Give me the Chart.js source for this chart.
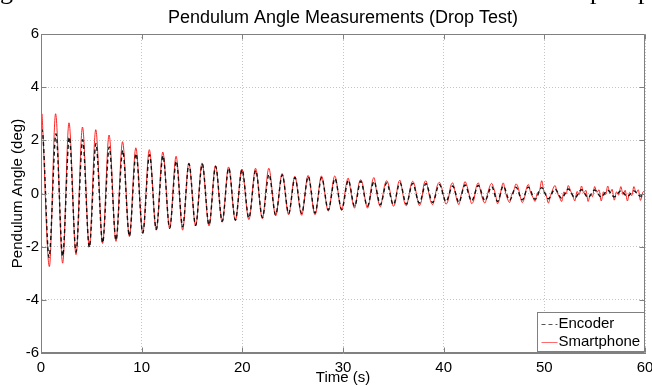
<!DOCTYPE html>
<html>
<head>
<meta charset="utf-8">
<script src="https://cdn.jsdelivr.net/npm/chart.js@4"></script>
<style>
  html, body { margin: 0; padding: 0; background: #fff; }
  #wrap { width: 652px; height: 385px; }
</style>
</head>
<body>
<div id="wrap"><canvas id="pendulumChart" width="652" height="385"></canvas></div>
<script>
// values (time in s, angle in deg)
const xTickValues = [0, 10, 20, 30, 40, 50, 60];
const yTickValues = [-6, -4, -2, 0, 2, 4, 6];
const seriesNames = ['Encoder', 'Smartphone'];
const chartTitle = 'Pendulum Angle Measurements (Drop Test)';

// encoder: start point, then alternating peaks / troughs
const encoderTime = [
  0.00, 0.10, 0.80, 1.49, 2.15, 2.81, 3.48, 4.14, 4.80, 5.46,
  6.12, 6.78, 7.45, 8.12, 8.78, 9.44, 10.11, 10.78, 11.45, 12.12,
  12.78, 13.44, 14.07, 14.70, 15.36, 16.02, 16.69, 17.35, 18.00, 18.65,
  19.31, 19.97, 20.65, 21.33, 21.99, 22.65, 23.31, 23.97, 24.60, 25.23,
  25.89, 26.55, 27.22, 27.88, 28.54, 29.20, 29.87, 30.53, 31.15, 31.76,
  32.42, 33.08, 33.71, 34.34, 35.00, 35.66, 36.29, 36.92, 37.58, 38.24,
  38.90, 39.57, 40.23, 40.90, 41.51, 42.12, 42.78, 43.44, 44.10, 44.77,
  45.35, 45.92, 46.55, 47.18, 47.80, 48.41, 49.08, 49.74, 50.40, 51.06,
  51.72, 52.38, 53.03, 53.69, 54.35, 55.00, 55.65, 56.30, 56.95, 57.60,
  58.25, 58.90, 59.55, 60.00
];
const encoderAngle = [
  2.36, 2.40, -2.40, 2.25, -2.35, 2.12, -2.20, 2.02, -2.02, 1.88,
  -1.85, 1.75, -1.75, 1.62, -1.60, 1.50, -1.48, 1.46, -1.35, 1.42,
  -1.30, 1.22, -1.25, 1.12, -1.20, 1.11, -1.18, 1.02, -1.05, 0.96,
  -1.00, 0.90, -0.92, 0.87, -0.90, 0.72, -0.80, 0.70, -0.75, 0.60,
  -0.75, 0.64, -0.74, 0.60, -0.62, 0.56, -0.60, 0.50, -0.48, 0.46,
  -0.48, 0.45, -0.42, 0.40, -0.42, 0.40, -0.40, 0.38, -0.36, 0.37,
  -0.34, 0.34, -0.30, 0.28, -0.33, 0.32, -0.28, 0.30, -0.27, 0.26,
  -0.30, 0.28, -0.26, 0.24, -0.24, 0.24, -0.22, 0.22, -0.20, 0.17,
  -0.18, 0.17, -0.16, 0.14, -0.15, 0.13, -0.13, 0.12, -0.12, 0.10,
  -0.11, 0.10, -0.10, 0.00
];

// smartphone: bigger swings early, noisy after ~30 s
const phoneTime = [
  0.00, 0.10, 0.16, 0.83, 1.45, 2.15, 2.78, 3.48, 4.12, 4.80,
  5.44, 6.12, 6.76, 7.45, 8.10, 8.78, 9.42, 10.11, 10.76, 11.45,
  12.10, 12.78, 13.42, 14.07, 14.68, 15.36, 16.00, 16.69, 17.33, 18.00,
  18.63, 19.31, 19.95, 20.65, 21.31, 21.99, 22.63, 23.31, 23.95, 24.60,
  25.21, 25.89, 26.53, 27.22, 27.86, 28.54, 29.18, 29.87,
  30.08, 30.30, 30.51, 30.72, 30.94, 31.15, 31.35, 31.56, 31.76,
  31.98, 32.20, 32.42, 32.64, 32.86, 33.08, 33.29, 33.50, 33.71,
  33.92, 34.13, 34.34, 34.56, 34.78, 35.00, 35.22, 35.44, 35.66,
  35.87, 36.08, 36.29, 36.50, 36.71, 36.92, 37.14, 37.36, 37.58,
  37.80, 38.02, 38.24, 38.46, 38.68, 38.90, 39.12, 39.35, 39.57,
  39.79, 40.01, 40.23, 40.45, 40.68, 40.90, 41.10, 41.31, 41.51,
  41.71, 41.92, 42.12, 42.34, 42.56, 42.78, 43.00, 43.22, 43.44,
  43.66, 43.88, 44.10, 44.32, 44.55, 44.77, 44.96, 45.16, 45.35,
  45.54, 45.73, 45.92, 46.13, 46.34, 46.55, 46.76, 46.97, 47.18,
  47.39, 47.60, 47.80, 48.00, 48.20, 48.41, 48.63, 48.86, 49.08,
  49.30, 49.52, 49.74, 49.96, 50.18, 50.40, 50.62, 50.84, 51.06,
  51.28, 51.50, 51.72, 51.94, 52.16, 52.38, 52.60, 52.81, 53.03,
  53.25, 53.47, 53.69, 53.91, 54.13, 54.35, 54.57, 54.78, 55.00,
  55.22, 55.43, 55.65, 55.87, 56.08, 56.30, 56.52, 56.73, 56.95,
  57.17, 57.38, 57.60, 57.82, 58.03, 58.25, 58.47, 58.68, 58.90,
  59.12, 59.33, 59.55, 59.78, 60.00
];
const phoneAngle = [
  3.00, 3.00, 2.55, -2.75, 3.00, -2.62, 2.66, -2.30, 2.50, -2.00,
  2.40, -1.88, 2.20, -1.80, 1.95, -1.62, 1.72, -1.50, 1.65, -1.38,
  1.56, -1.32, 1.40, -1.38, 1.15, -1.22, 1.15, -1.22, 1.05, -1.08,
  1.00, -1.02, 0.92, -0.98, 0.95, -0.95, 0.95, -0.84, 0.75, -0.80,
  0.65, -0.82, 0.68, -0.80, 0.66, -0.66, 0.66, -0.64,
  -0.28, 0.30, 0.58, 0.22, -0.30, -0.55, -0.20, 0.34, 0.52,
  0.30, -0.22, -0.55, -0.30, 0.36, 0.60, 0.18, -0.28, -0.50,
  -0.16, 0.30, 0.48, 0.28, -0.14, -0.48, -0.30, 0.30, 0.50,
  0.16, -0.30, -0.46, -0.18, 0.26, 0.46, 0.28, -0.16, -0.45,
  -0.26, 0.32, 0.48, 0.14, -0.26, -0.42, -0.14, 0.28, 0.42,
  0.24, -0.12, -0.40, -0.24, 0.26, 0.40, 0.12, -0.24, -0.42,
  -0.10, 0.20, 0.45, 0.26, -0.08, -0.38, -0.24, 0.22, 0.40,
  0.10, -0.22, -0.36, -0.08, 0.24, 0.38, 0.22, -0.06, -0.38,
  -0.22, 0.18, 0.40, 0.06, -0.20, -0.34, -0.04, 0.12, 0.36,
  0.24, -0.10, -0.34, -0.20, 0.16, 0.34, 0.04, -0.14, -0.30,
  0.02, 0.10, 0.48, 0.06, -0.06, -0.36, -0.08, 0.16, 0.30,
  0.04, -0.14, -0.30, 0.06, -0.02, 0.30, 0.10, -0.06, -0.28,
  0.08, -0.04, 0.28, 0.02, 0.12, -0.30, -0.02, -0.12, 0.26,
  0.04, 0.14, -0.28, 0.06, -0.04, 0.28, 0.00, 0.16, -0.25,
  0.06, -0.06, 0.26, -0.04, 0.12, -0.28, 0.04, -0.08, 0.26,
  0.02, 0.14, -0.26, 0.04, 0.10
];

function toPoints(times, angles) {
  return times.map((t, i) => ({ x: t, y: angles[i] }));
}

const FONT = "'Liberation Sans', Arial, sans-serif";
const AXIS_GRAY = '#808080';

// title centred over the axes, not the whole canvas
const titlePlugin = {
  id: 'axesTitle',
  afterDraw(chart) {
    const { ctx, chartArea: a } = chart;
    ctx.save();
    ctx.font = '18px ' + FONT;
    ctx.fillStyle = '#000';
    ctx.textAlign = 'center';
    ctx.textBaseline = 'middle';
    ctx.fillText(chartTitle, (a.left + a.right) / 2, 18);
    ctx.restore();
  }
};

// box on all four sides plus small inward ticks, like the matlab axes
const framePlugin = {
  id: 'frame',
  afterDatasetsDraw(chart) {
    const { ctx, chartArea: a, scales: { x, y } } = chart;
    const l = Math.round(a.left) + 0.5, r = Math.round(a.right) - 0.5;
    const t = Math.round(a.top) + 0.5, b = Math.round(a.bottom) - 0.5;
    ctx.save();
    ctx.strokeStyle = AXIS_GRAY;
    ctx.lineWidth = 1;
    ctx.beginPath();
    ctx.rect(l, t, r - l, b - t);
    xTickValues.forEach(v => {
      const px = Math.round(x.getPixelForValue(v)) + 0.5;
      ctx.moveTo(px, b); ctx.lineTo(px, b - 5);
      ctx.moveTo(px, t); ctx.lineTo(px, t + 5);
    });
    yTickValues.forEach(v => {
      const py = Math.round(y.getPixelForValue(v)) + 0.5;
      ctx.moveTo(l, py); ctx.lineTo(l + 5, py);
      ctx.moveTo(r, py); ctx.lineTo(r - 5, py);
    });
    ctx.stroke();
    ctx.restore();
  }
};

// legend box in the lower right corner of the axes
const legendPlugin = {
  id: 'cornerLegend',
  afterDraw(chart) {
    const { ctx, chartArea: a } = chart;
    const w = 107, h = 39;
    const right = Math.round(a.right) - 0.5, bottom = Math.round(a.bottom) - 1.5;
    const left = right - w, top = bottom - h;
    ctx.save();
    ctx.fillStyle = '#fff';
    ctx.fillRect(left, top, w, h);
    ctx.strokeStyle = AXIS_GRAY;
    ctx.lineWidth = 1;
    ctx.strokeRect(left, top, w, h);
    ctx.font = '15px ' + FONT;
    ctx.textBaseline = 'middle';
    ctx.fillStyle = '#000';
    chart.data.datasets.forEach((ds, i) => {
      const yy = top + 11 + i * 18;
      ctx.beginPath();
      ctx.strokeStyle = i === 0 ? '#555' : 'rgba(255,90,90,0.9)';
      ctx.lineWidth = 1;
      ctx.setLineDash(ds.borderDash || []);
      ctx.moveTo(left + 4, Math.round(yy) + 0.5);
      ctx.lineTo(left + 20, Math.round(yy) + 0.5);
      ctx.stroke();
      ctx.setLineDash([]);
      ctx.fillText(ds.label, left + 21, yy);
    });
    ctx.restore();
  }
};

// bottoms of the document text line that sits above the figure
const pageTextPlugin = {
  id: 'pageText',
  afterDraw(chart) {
    const ctx = chart.ctx;
    ctx.save();
    ctx.font = "26px 'Liberation Serif', serif";
    ctx.fillStyle = '#000';
    ctx.textBaseline = 'alphabetic';
    ctx.fillText('g', 0, -1);
    ctx.fillText('p', 590, -1);
    ctx.fillText('p', 638, -1);
    ctx.restore();
  }
};

new Chart(document.getElementById('pendulumChart'), {
  type: 'line',
  data: {
    datasets: [{
      label: seriesNames[0],
      data: toPoints(encoderTime, encoderAngle),
      borderColor: '#111',
      borderWidth: 1.4,
      borderDash: [4, 3],
      pointRadius: 0,
      cubicInterpolationMode: 'monotone',
      order: 0
    }, {
      label: seriesNames[1],
      data: toPoints(phoneTime, phoneAngle),
      borderColor: 'rgba(255,0,0,0.85)',
      borderWidth: 1,
      pointRadius: 0,
      cubicInterpolationMode: 'monotone',
      order: 1
    }]
  },
  options: {
    responsive: false,
    animation: false,
    layout: { padding: { left: 0, right: 7, top: 34, bottom: 0 } },
    plugins: {
      legend: { display: false },
      tooltip: { enabled: false },
      title: { display: false }
    },
    scales: {
      x: {
        type: 'linear',
        min: 0,
        max: 60,
        afterBuildTicks: s => { s.ticks = xTickValues.map(v => ({ value: v })); },
        afterFit: s => { s.height = 32; s.paddingLeft = 0; s.paddingRight = 0; },
        ticks: { color: '#000', font: { family: FONT, size: 15 }, padding: 6, maxRotation: 0 },
        grid: { color: '#c4c4c4', drawTicks: false },
        border: { color: AXIS_GRAY, dash: [1, 2] },
        title: {
          display: true,
          text: 'Time (s)',
          color: '#000',
          font: { family: FONT, size: 15, lineHeight: 1 },
          padding: { top: 0, bottom: 0 }
        }
      },
      y: {
        type: 'linear',
        min: -6,
        max: 6,
        afterBuildTicks: s => { s.ticks = yTickValues.map(v => ({ value: v })); },
        afterFit: s => { s.width = 41; s.paddingTop = 0; s.paddingBottom = 0; },
        ticks: { color: '#000', font: { family: FONT, size: 15 }, padding: 2 },
        grid: { color: '#c4c4c4', drawTicks: false },
        border: { color: AXIS_GRAY, dash: [1, 2] },
        title: {
          display: true,
          text: 'Pendulum Angle (deg)',
          color: '#000',
          font: { family: FONT, size: 15, lineHeight: 1 },
          padding: { top: 10, bottom: 0 }
        }
      }
    }
  },
  plugins: [framePlugin, legendPlugin, titlePlugin, pageTextPlugin]
});
</script>
</body>
</html>
